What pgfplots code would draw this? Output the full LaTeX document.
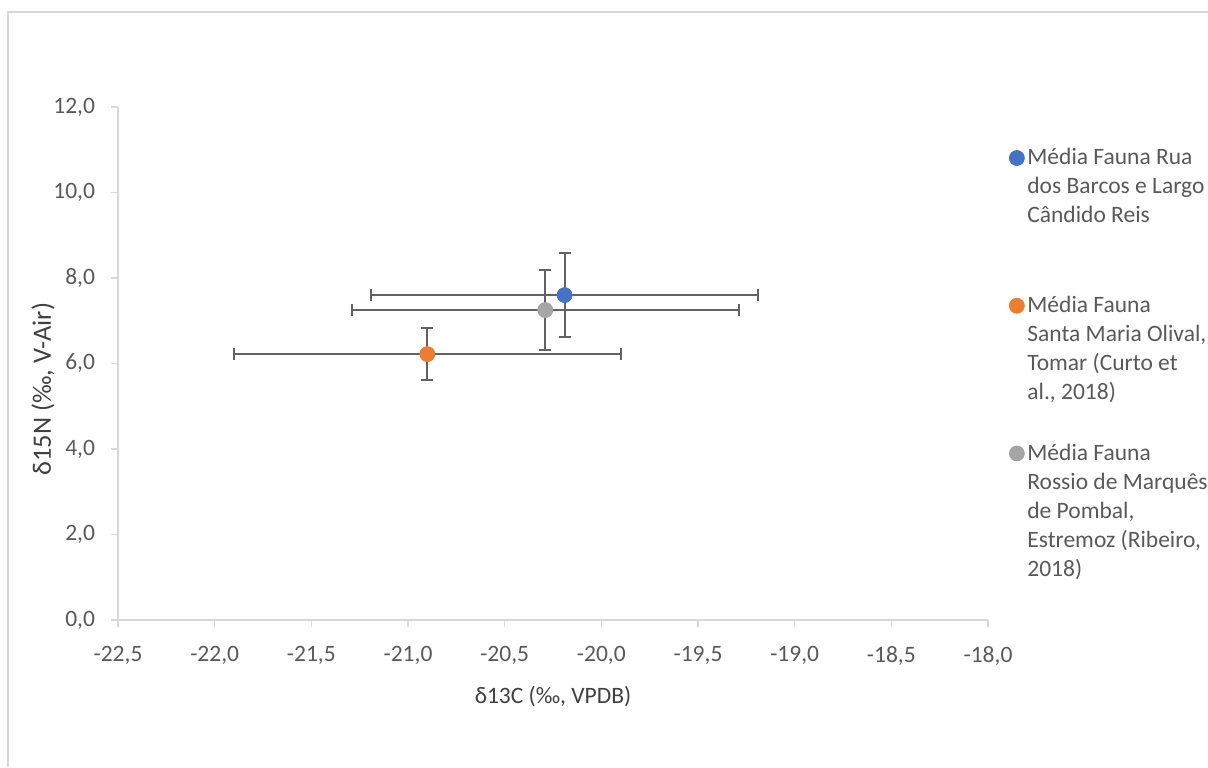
\documentclass[border=0pt]{standalone}
\usepackage{pgfplots}
\pgfplotsset{compat=1.18}
\usepackage{fontspec}
\setmainfont{Carlito}
\definecolor{cblue}{HTML}{4472C4}
\definecolor{corange}{HTML}{ED7D31}
\definecolor{cgrey}{HTML}{A5A5A5}
\definecolor{txt}{HTML}{595959}
\definecolor{lbl}{HTML}{404040}
\definecolor{axl}{HTML}{D9D9D9}
\definecolor{errc}{HTML}{626262}
\begin{document}
\begin{tikzpicture}[x=0.5pt,y=0.5pt]
\begin{scope}
\clip (0,0) rectangle (1208,767);
\draw[color=axl, line width=0.75pt] (8,0) -- (8,755) -- (1208,755);
\begin{axis}[
  at={(59pt,73.5pt)}, anchor=south west,
  scale only axis, width=435pt, height=256.5pt,
  xmin=-22.5, xmax=-18, ymin=0, ymax=12,
  xtick={-22.5,-22,...,-18}, ytick={0,2,...,12},
  axis lines*=left, axis line style={axl, line width=0.75pt, -},
  tick align=outside, major tick length=3.5pt,
  tick style={axl, line width=0.75pt},
  tick label style={font=\fontsize{11.75}{14}\selectfont, text=txt},
  xticklabel style={yshift=-6pt},
  yticklabel style={xshift=-4.5pt},
  /pgf/number format/.cd, fixed, fixed zerofill, precision=1, use comma, assume math mode=true,
  /pgfplots/.cd,
  xlabel={δ13C (‰, VPDB)}, ylabel={δ15N (‰, V-Air)},
  xlabel style={font=\fontsize{11.75}{14}\selectfont, text=lbl, at={(axis description cs:0.5,-0.150)}, anchor=center},
  ylabel style={font=\fontsize{13.25}{16}\selectfont, text=lbl, at={(axis description cs:-0.0862,0.45)}, anchor=center},
  legend style={draw=none, fill=none, at={(axis description cs:1.0241,0.926)}, anchor=north west,
    font=\fontsize{11.75}{14.5}\selectfont, text=txt, inner sep=0pt, row sep=61.2pt,
    nodes={inner sep=1.5pt}},
  legend cell align=left,
  every axis plot/.append style={only marks, mark=*, mark size=3.75pt,
    error bars/x dir=both, error bars/x explicit, error bars/y dir=both, error bars/y explicit,
    error bars/error bar style={errc, line width=1pt},
    error bars/error mark options={errc, rotate=90, mark size=3pt, line width=1pt}},
]
\addplot[color=cblue, mark options={draw=cblue, fill=cblue}] coordinates {(-20.19,7.60) +- (1.00,0.99)};
\addlegendentry{\parbox[t]{100pt}{Média Fauna Rua\\dos Barcos e Largo\\Cândido Reis}}
\addplot[color=corange, mark options={draw=corange, fill=corange}] coordinates {(-20.90,6.22) +- (1.00,0.61)};
\addlegendentry{\parbox[t]{100pt}{Média Fauna\\Santa Maria Olival,\\Tomar (Curto et\\al., 2018)}}
\addplot[color=cgrey, mark options={draw=cgrey, fill=cgrey}] coordinates {(-20.29,7.25) +- (1.00,0.93)};
\addlegendentry{\parbox[t]{100pt}{Média Fauna\\Rossio de Marquês\\de Pombal,\\Estremoz (Ribeiro,\\2018)}}
\end{axis}
\end{scope}
\pgfresetboundingbox
\path[use as bounding box] (0,0) rectangle (1208,767);
\end{tikzpicture}
\end{document}
